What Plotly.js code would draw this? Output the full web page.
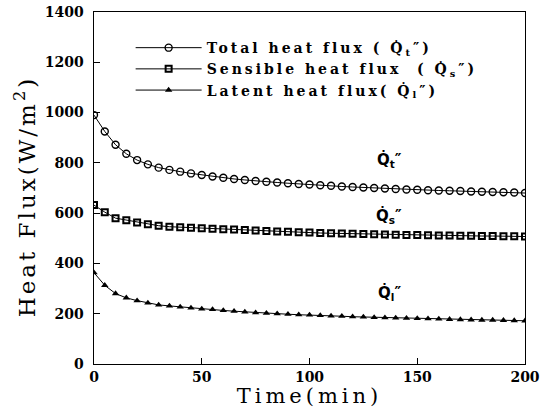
<!DOCTYPE html>
<html>
<head>
<meta charset="utf-8">
<script src="https://cdn.plot.ly/plotly-3.0.1.min.js"></script>
<style>
html,body{margin:0;padding:0;background:#fff;}
#chart{width:545px;height:408px;}
.legendtext{letter-spacing:3px;}
.g-xtitle text{letter-spacing:4px;}
#chart .annotation[data-index="3"] text{letter-spacing:3px;}
</style>
</head>
<body>
<div id="chart"></div>
<script>
const timeMin = [0,5,10,15,20,25,30,35,40,45,50,55,60,65,70,75,80,85,90,95,100,105,110,115,120,125,130,135,140,145,150,155,160,165,170,175,180,185,190,195,200];
const totalFlux = [990,925,872,836,811,794,781,772,765,758,752,746,741,736,732,728,725,722,719,716,714,711,709,706,704,702,700,698,696,694,693,691,690,689,688,686,685,684,683,682,680];
const sensibleFlux = [632,604,580,572,563,556,550,546,544,542,540,538,536,535,533,531,529,527,526,524,523,521,520,519,518,517,516,515,514,513,513,512,511,511,510,510,509,509,508,508,507];
const latentFlux = [363,313,280,263,252,243,235,231,227,223,219,217,213,210,207,204,202,200,198,196,195,193,191,190,188,187,185,184,183,182,181,180,179,178,177,176,175,175,174,173,172];
const seriesNames = ['Total heat flux ( Q\u0307<sub>t</sub>\u2033)', 'Sensible heat flux  ( Q\u0307<sub>s</sub>\u2033)', 'Latent heat flux( Q\u0307<sub>l</sub>\u2033)'];
const curveLabels = ['Q\u0307<sub>t</sub>\u2033', 'Q\u0307<sub>s</sub>\u2033', 'Q\u0307<sub>l</sub>\u2033'];
const labelX = [137, 137, 137];
const labelY = [812, 590, 282];
const xTicks = [0,50,100,150,200];
const yTicks = [0,200,400,600,800,1000,1200,1400];

const serif = 'DejaVu Serif, serif';
const traces = [
  {x: timeMin, y: totalFlux, name: seriesNames[0], mode: 'lines+markers',
   line: {color: '#000', width: 1}, marker: {symbol: 'circle-open', size: 7, color: '#000', line: {width: 1.4}}},
  {x: timeMin, y: sensibleFlux, name: seriesNames[1], mode: 'lines+markers',
   line: {color: '#000', width: 1}, marker: {symbol: 'square-open', size: 6, color: '#000', line: {width: 2}}},
  {x: timeMin, y: latentFlux, name: seriesNames[2], mode: 'lines+markers',
   line: {color: '#000', width: 1}, marker: {symbol: 'triangle-up', size: 6.5, color: '#000'}}
];

const annotations = curveLabels.map((t, i) => ({
  x: labelX[i], y: labelY[i], xref: 'x', yref: 'y', text: t, showarrow: false,
  font: {family: 'DejaVu Sans, sans-serif', size: 15, color: '#000', weight: 'bold'}
}));
annotations.push({
  x: -0.160, y: 0.475, xref: 'paper', yref: 'paper', xanchor: 'center', yanchor: 'middle',
  text: 'Heat Flux(W/m<sup>2</sup>)',
  textangle: -90, showarrow: false, font: {family: serif, size: 23, color: '#000'}
});

const layout = {
  width: 545, height: 408,
  margin: {l: 94, r: 20, t: 12, b: 44},
  paper_bgcolor: '#fff', plot_bgcolor: '#fff',
  showlegend: true,
  legend: {x: 0.085, y: 0.943, xanchor: 'left', yanchor: 'top', bgcolor: 'rgba(0,0,0,0)',
           font: {family: serif, size: 14, color: '#000', weight: 'bold'}, itemwidth: 66, tracegroupgap: 0},
  xaxis: {range: [0, 200], tickvals: xTicks, ticks: 'inside', ticklen: 6, tickcolor: '#000',
          showline: true, linecolor: '#000', linewidth: 1.4, mirror: true, showgrid: false, zeroline: false,
          tickfont: {family: serif, size: 14, color: '#000', weight: 'bold'},
          title: {text: 'Time(min)', font: {family: serif, size: 21, color: '#000'}, standoff: 5}},
  yaxis: {range: [0, 1400], tickvals: yTicks, ticks: 'inside', ticklen: 6, tickcolor: '#000',
          showline: true, linecolor: '#000', linewidth: 1.4, mirror: true, showgrid: false, zeroline: false,
          ticklabelstandoff: 6,
          tickfont: {family: serif, size: 14, color: '#000', weight: 'bold'}},
  annotations: annotations
};

Plotly.newPlot('chart', traces, layout, {displayModeBar: false, staticPlot: true});
</script>
</body>
</html>
